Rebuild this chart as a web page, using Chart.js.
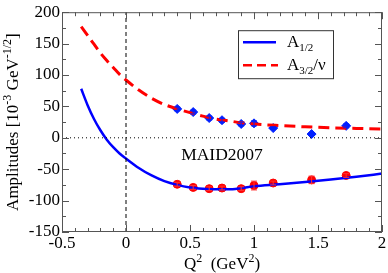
<!DOCTYPE html>
<html><head><meta charset="utf-8">
<script src="https://cdn.jsdelivr.net/npm/chart.js@4.4.1/dist/chart.umd.min.js"></script>
<style>html,body{margin:0;padding:0;background:#fff}#w{width:388px;height:273px}</style>
</head><body><div id="w"><canvas id="c"></canvas></div>
<script>
// Model curves (MAID2007)
const curveQ2 = [-0.35,-0.3,-0.25,-0.2,-0.15,-0.1,-0.05,0,0.1,0.2,0.3,0.4,0.5,0.6,0.7,0.8,0.9,1.0,1.2,1.4,1.6,1.8,2.0];
const A12curve = [78,52,30,12,-3,-15,-25,-33,-48,-60,-69,-75,-79,-81,-82,-82,-80,-77,-74,-70.5,-66.5,-62,-57];
const A32curve = [177,163,149,135,123,112,101,92,76,63,53,46,40,34.5,30,27,24,22,19.5,17.5,16,15,14];
// Data points
const dataQ2 = [0.4,0.525,0.65,0.75,0.9,1.0,1.15,1.45,1.72];
const A12data = [-74,-79,-81,-80,-81,-76,-72,-67,-60];
const A12err  = [3,3,3,3,3,7,3,6,3];
const A32data = [46,41,31.5,28,22,23,15.5,6,19];
const A32err  = [3,3,3,3,3,4,2,2,3];
// Axes
const xMin=-0.5, xMax=2, xStep=0.5, xMinor=0.1;
const yMin=-150, yMax=200, yStep=50, yMinor=25;

const pts=(xs,ys)=>xs.map((x,i)=>({x:x,y:ys[i]}));
const SERIF='"Liberation Serif","Times New Roman",serif';

const framePlugin={id:'frame',afterDatasetsDraw(ch){
  const {ctx,chartArea:a,scales:{x,y}}=ch;
  ctx.save();
  ctx.strokeStyle='#555';ctx.lineWidth=1;
  ctx.strokeRect(a.left+0.5,a.top+0.5,a.right-a.left-1,a.bottom-a.top-1);
  ctx.beginPath();
  const nx=Math.round((xMax-xMin)/xMinor);
  for(let i=0;i<=nx;i++){const v=xMin+i*xMinor;const p=Math.round(x.getPixelForValue(v))+0.5;
    const major=Math.abs(v/xStep-Math.round(v/xStep))<1e-6;const L=major?7:4;
    ctx.moveTo(p,a.bottom);ctx.lineTo(p,a.bottom-L);ctx.moveTo(p,a.top);ctx.lineTo(p,a.top+L);}
  const ny=Math.round((yMax-yMin)/yMinor);
  for(let i=0;i<=ny;i++){const v=yMin+i*yMinor;const p=Math.round(y.getPixelForValue(v))+0.5;
    const major=Math.abs(v/yStep-Math.round(v/yStep))<1e-6;const L=major?7:4;
    ctx.moveTo(a.left,p);ctx.lineTo(a.left+L,p);ctx.moveTo(a.right,p);ctx.lineTo(a.right-L,p);}
  ctx.stroke();
  // error bars
  const drawErr=(xs,ys,es,col)=>{ctx.strokeStyle=col;ctx.lineWidth=1;ctx.beginPath();
    xs.forEach((q,i)=>{const px=x.getPixelForValue(q);const y1=y.getPixelForValue(ys[i]+es[i]);const y2=y.getPixelForValue(ys[i]-es[i]);
      ctx.moveTo(px,y1);ctx.lineTo(px,y2);ctx.moveTo(px-3,y1);ctx.lineTo(px+3,y1);ctx.moveTo(px-3,y2);ctx.lineTo(px+3,y2);});
    ctx.stroke();};
  drawErr(dataQ2,A12data,A12err,'#ff3030');
  drawErr(dataQ2,A32data,A32err,'#0020ff');
  // legend
  const lx=a.left+176, ly=a.top+18, lw=95, lh=48;
  ctx.fillStyle='#fff';ctx.fillRect(lx,ly,lw,lh);
  ctx.strokeStyle='#333';ctx.lineWidth=1;ctx.strokeRect(lx+0.5,ly+0.5,lw,lh);
  ctx.lineWidth=2.5;ctx.strokeStyle='#0000ff';ctx.setLineDash([]);
  ctx.beginPath();ctx.moveTo(lx+5,ly+12);ctx.lineTo(lx+38,ly+12);ctx.stroke();
  ctx.strokeStyle='#ff0000';ctx.setLineDash([9,5]);
  ctx.beginPath();ctx.moveTo(lx+5,ly+35);ctx.lineTo(lx+40,ly+35);ctx.stroke();
  ctx.setLineDash([]);
  ctx.fillStyle='#000';ctx.textBaseline='alphabetic';ctx.textAlign='left';
  const sub=(tx,ty,main,s,rest)=>{ctx.font='17px '+SERIF;ctx.fillText(main,tx,ty);let w=ctx.measureText(main).width;
    ctx.font='11px '+SERIF;ctx.fillText(s,tx+w,ty+4);w+=ctx.measureText(s).width;
    if(rest){ctx.font='17px '+SERIF;ctx.fillText(rest,tx+w,ty);}};
  sub(lx+49,ly+17,'A','1/2','');
  sub(lx+49,ly+40,'A','3/2','/\u03bd');
  // MAID2007 label
  ctx.font='17.5px '+SERIF;ctx.textAlign='center';ctx.textBaseline='middle';
  ctx.fillText('MAID2007',x.getPixelForValue(0.75),y.getPixelForValue(-28));
  ctx.restore();
}};

const titlePlugin={id:'titles',afterDraw(ch){
  const {ctx,chartArea:a}=ch;ctx.save();ctx.fillStyle='#000';
  // y title with superscripts
  const parts=[['Amplitudes [10',17,0],['-3',12,-6],[' GeV',17,0],['-1/2',12,-6],[']',17,0]];
  let tot=0;parts.forEach(p=>{ctx.font=p[1]+'px '+SERIF;tot+=ctx.measureText(p[0]).width;});
  ctx.translate(13,(a.top+a.bottom)/2);ctx.rotate(-Math.PI/2);
  ctx.textBaseline='middle';ctx.textAlign='left';
  let cx=-tot/2;parts.forEach(p=>{ctx.font=p[1]+'px '+SERIF;ctx.fillText(p[0],cx,p[2]+1);cx+=ctx.measureText(p[0]).width;});
  ctx.setTransform(1,0,0,1,0,0);
  // x title
  const xp=[['Q',17,0],['2',12,-6],['  (GeV',17,0],['2',12,-6],[')',17,0]];
  tot=0;xp.forEach(p=>{ctx.font=p[1]+'px '+SERIF;tot+=ctx.measureText(p[0]).width;});
  cx=(a.left+a.right)/2-tot/2;const ty=265;
  xp.forEach(p=>{ctx.font=p[1]+'px '+SERIF;ctx.fillText(p[0],cx,ty+p[2]);cx+=ctx.measureText(p[0]).width;});
  ctx.restore();
}};

new Chart(document.getElementById('c'),{
  type:'scatter',
  data:{datasets:[
    {data:[{x:0,y:yMin},{x:0,y:yMax}],showLine:true,borderColor:'#000',borderWidth:1,borderDash:[4,3],pointRadius:0},
    {data:[{x:xMin,y:0},{x:xMax,y:0}],showLine:true,borderColor:'#000',borderWidth:1,borderDash:[1,3],pointRadius:0},
    {label:'A1/2',data:pts(curveQ2,A12curve),showLine:true,borderColor:'#0000ff',borderWidth:2.5,pointRadius:0,cubicInterpolationMode:'monotone'},
    {label:'A3/2/ν',data:pts(curveQ2,A32curve),showLine:true,borderColor:'#ff0000',borderWidth:3,borderDash:[11,6],pointRadius:0,cubicInterpolationMode:'monotone'},
    {data:pts(dataQ2,A12data),pointStyle:'circle',pointRadius:4,backgroundColor:'#ff0000',borderColor:'#ff0000'},
    {data:pts(dataQ2,A32data),pointStyle:'rectRot',pointRadius:4.5,backgroundColor:'#0020ff',borderColor:'#0020ff'}
  ]},
  options:{responsive:true,maintainAspectRatio:false,animation:false,
    layout:{padding:{top:5,right:6,left:0,bottom:0}},
    plugins:{legend:{display:false},tooltip:{enabled:false}},
    scales:{
      x:{type:'linear',min:xMin,max:xMax,
        ticks:{stepSize:xStep,color:'#000',font:{family:SERIF,size:17},padding:1,maxRotation:0,
          callback:v=>String(Math.round(v*10)/10)},
        grid:{display:false,drawTicks:false},border:{display:false},
        afterFit(s){s.height=41;}},
      y:{type:'linear',min:yMin,max:yMax,
        ticks:{stepSize:yStep,color:'#000',font:{family:SERIF,size:17},padding:2},
        grid:{display:false,drawTicks:false},border:{display:false},
        afterFit(s){s.width=62;}}
    }},
  plugins:[framePlugin,titlePlugin]
});
</script></body></html>
